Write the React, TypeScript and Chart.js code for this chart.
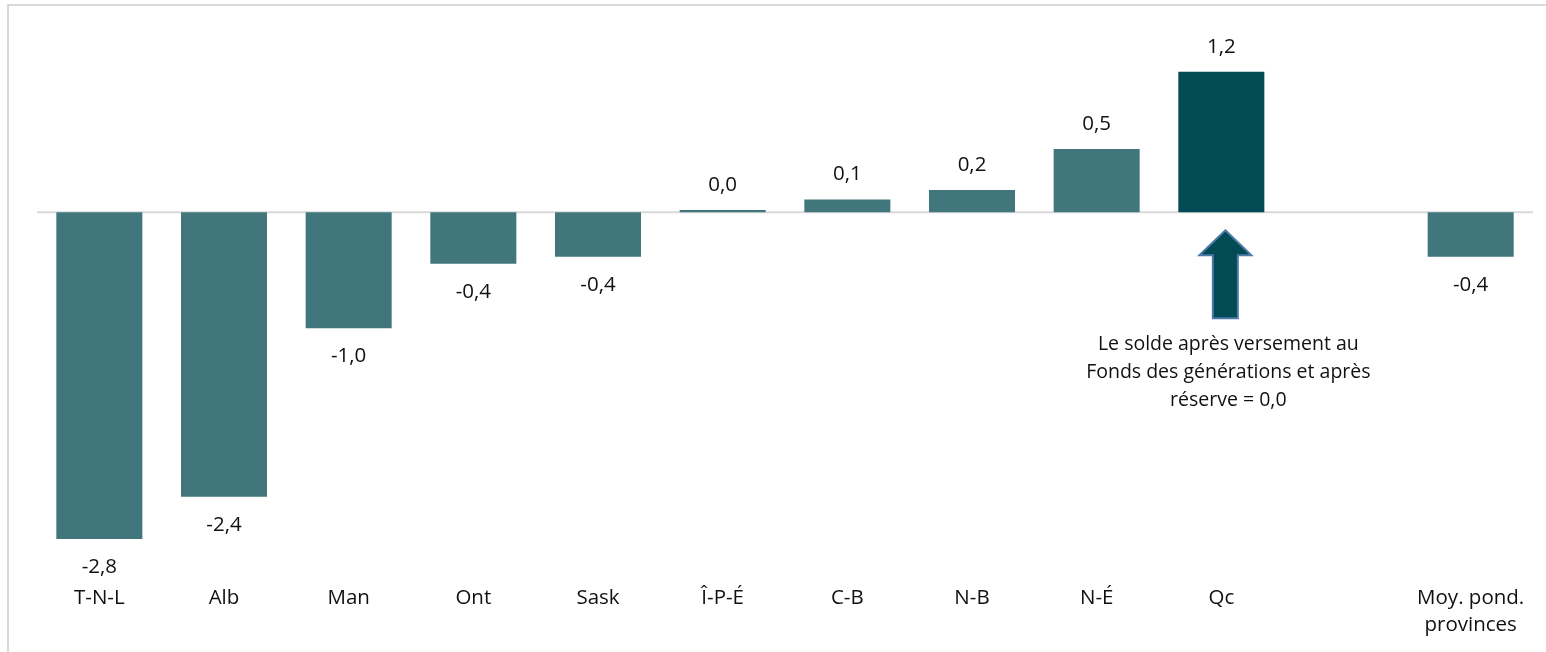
import React, { useEffect, useRef } from "react";
import { Chart, registerables } from "chart.js";

Chart.register(...registerables);

// Provinces et moyenne pondérée (une case vide avant la moyenne)
const categories: (string | string[])[] = [
  "T-N-L",
  "Alb",
  "Man",
  "Ont",
  "Sask",
  "Î-P-É",
  "C-B",
  "N-B",
  "N-É",
  "Qc",
  "",
  ["Moy. pond.", "provinces"],
];

// Solde budgétaire en % du PIB
const soldes: (number | null)[] = [
  -2.79, -2.43, -0.99, -0.44, -0.38, 0.02, 0.11, 0.19, 0.54, 1.2, null, -0.38,
];

const annotationLines: string[] = [
  "Le solde après versement au",
  "Fonds des générations et après",
  "réserve = 0,0",
];

const QC_INDEX = 9;
const FONT = "'Open Sans', 'Noto Sans', sans-serif";
const LABEL_SIZE = 20.5;
const NOTE_SIZE = 19.5;
const TEXT_COLOR = "#111111";
const BAR_COLOR = "#41777c";
const QC_COLOR = "#024a54";

const formatValue = (v: number) => v.toFixed(1).replace(".", ",");

const zeroLinePlugin = {
  id: "zeroLine",
  beforeDatasetsDraw(chart: any) {
    const { ctx, chartArea, scales } = chart;
    const y = scales.y.getPixelForValue(0);
    ctx.save();
    ctx.strokeStyle = "#d9d9d9";
    ctx.lineWidth = 2;
    ctx.beginPath();
    ctx.moveTo(chartArea.left, y);
    ctx.lineTo(chartArea.right, y);
    ctx.stroke();
    ctx.restore();
  },
};

const valueLabelPlugin = {
  id: "valueLabels",
  afterDatasetsDraw(chart: any) {
    const { ctx } = chart;
    const meta = chart.getDatasetMeta(0);
    ctx.save();
    ctx.font = `${LABEL_SIZE}px ${FONT}`;
    ctx.fillStyle = TEXT_COLOR;
    ctx.textAlign = "center";
    ctx.textBaseline = "middle";
    soldes.forEach((v, i) => {
      if (v === null) return;
      const bar = meta.data[i];
      const y = v >= 0 ? bar.y - 25 : bar.y + 28;
      ctx.fillText(formatValue(v), bar.x, y);
    });
    ctx.restore();
  },
};

const arrowPlugin = {
  id: "qcArrow",
  afterDatasetsDraw(chart: any) {
    const { ctx, scales } = chart;
    const cx = scales.x.getPixelForValue(QC_INDEX) + 4;
    const zeroY = scales.y.getPixelForValue(0);
    const tipY = zeroY + 18;
    const headY = tipY + 25;
    const baseY = tipY + 88;
    const headHalf = 26;
    const shaftHalf = 12.5;
    ctx.save();
    ctx.beginPath();
    ctx.moveTo(cx, tipY);
    ctx.lineTo(cx + headHalf, headY);
    ctx.lineTo(cx + shaftHalf, headY);
    ctx.lineTo(cx + shaftHalf, baseY);
    ctx.lineTo(cx - shaftHalf, baseY);
    ctx.lineTo(cx - shaftHalf, headY);
    ctx.lineTo(cx - headHalf, headY);
    ctx.closePath();
    ctx.fillStyle = QC_COLOR;
    ctx.fill();
    ctx.strokeStyle = "#4d7aa6";
    ctx.lineWidth = 2;
    ctx.stroke();

    ctx.font = `${NOTE_SIZE}px ${FONT}`;
    ctx.fillStyle = TEXT_COLOR;
    ctx.textAlign = "center";
    ctx.textBaseline = "middle";
    const textX = cx + 3;
    annotationLines.forEach((line, k) => {
      ctx.fillText(line, textX, baseY + 26 + k * 28);
    });
    ctx.restore();
  },
};

export default function App() {
  const canvasRef = useRef<HTMLCanvasElement | null>(null);

  useEffect(() => {
    if (!canvasRef.current) return;
    const chart = new Chart(canvasRef.current, {
      type: "bar",
      data: {
        labels: categories,
        datasets: [
          {
            data: soldes,
            backgroundColor: soldes.map((_, i) =>
              i === QC_INDEX ? QC_COLOR : BAR_COLOR
            ),
            borderWidth: 0,
            barPercentage: 0.69,
            categoryPercentage: 1,
          },
        ],
      },
      options: {
        animation: false,
        responsive: true,
        maintainAspectRatio: false,
        layout: {
          padding: { left: 37, right: 13, top: 25, bottom: 0 },
        },
        plugins: {
          legend: { display: false },
          tooltip: { enabled: false },
        },
        scales: {
          x: {
            grid: { display: false },
            border: { display: false },
            ticks: {
              color: TEXT_COLOR,
              padding: 13,
              maxRotation: 0,
              autoSkip: false,
              font: { family: FONT, size: LABEL_SIZE, lineHeight: 1.33 },
            },
          },
          y: {
            display: false,
            min: -3.0,
            max: 1.6,
          },
        },
      },
      plugins: [zeroLinePlugin, valueLabelPlugin, arrowPlugin],
    });
    return () => chart.destroy();
  }, []);

  return (
    <>
      <div
        style={{
          position: "fixed",
          left: 7,
          top: 4,
          width: 1539,
          height: 648,
          borderTop: "2px solid #d9d9d9",
          borderLeft: "2px solid #d9d9d9",
          boxSizing: "border-box",
        }}
      />
      <div
        style={{
          position: "fixed",
          left: 0,
          top: 0,
          width: 1546,
          height: 652,
        }}
      >
        <canvas ref={canvasRef} />
      </div>
    </>
  );
}
